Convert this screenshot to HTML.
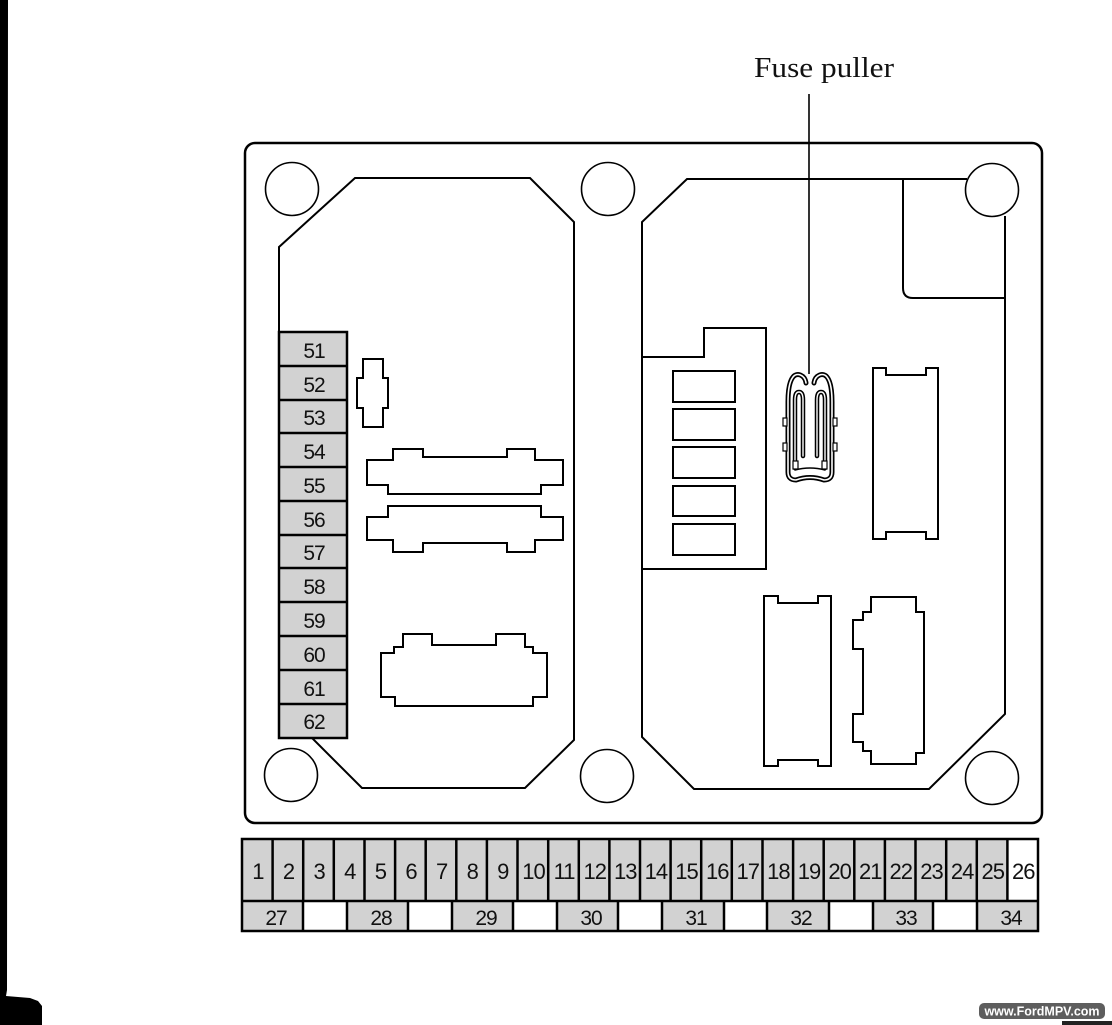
<!DOCTYPE html>
<html><head><meta charset="utf-8"><style>
html,body{margin:0;padding:0;background:#fff;}
svg{display:block;}
</style></head><body>
<svg width="1112" height="1025" viewBox="0 0 1112 1025" xmlns="http://www.w3.org/2000/svg">
<rect width="1112" height="1025" fill="#fff"/>
<polygon points="0,0 8,0 7,990 6,996 30,998 38,1001 42,1006 42,1025 0,1025" fill="#000"/>

<text x="754" y="77" font-family="Liberation Serif, serif" font-size="29" textLength="140" lengthAdjust="spacingAndGlyphs" fill="#111">Fuse puller</text>
<line x1="809" y1="94" x2="809" y2="374" stroke="#000" stroke-width="1.6"/>

<rect x="245" y="143" width="797" height="680" rx="10" ry="10" fill="none" stroke="#000" stroke-width="2.5"/>

<g fill="#fff" stroke="#000" stroke-width="1.6">
<circle cx="292" cy="189" r="26.5"/>
<circle cx="608" cy="189" r="26.5"/>
<circle cx="992" cy="190" r="26.5"/>
<circle cx="291" cy="775" r="26.5"/>
<circle cx="607" cy="776" r="26.5"/>
<circle cx="992" cy="778" r="26.5"/>
</g>

<polygon points="279,247 355,178 530,178 574,222 574,740 525,788 362,788 279,705" fill="none" stroke="#000" stroke-width="2"/>

<path d="M967 179 L687 179 L642 222 L642 737 L694 789 L929 789 L1005 714 L1005 216" fill="none" stroke="#000" stroke-width="2"/>
<path d="M903 179 L903 288 Q903 298 913 298 L1005 298" fill="none" stroke="#000" stroke-width="2"/>

<path d="M642 357 L704 357 L704 328 L766 328 L766 569 L642 569" fill="none" stroke="#000" stroke-width="2"/>
<g fill="none" stroke="#000" stroke-width="2">
<rect x="673" y="371" width="62" height="31"/>
<rect x="673" y="409" width="62" height="31"/>
<rect x="673" y="447" width="62" height="31"/>
<rect x="673" y="486" width="62" height="30"/>
<rect x="673" y="524" width="62" height="31"/>
</g>

<path d="M873 368 L886 368 L886 375 L926 375 L926 368 L938 368 L938 539 L926 539 L926 532 L886 532 L886 539 L873 539 Z" fill="none" stroke="#000" stroke-width="2"/>

<path d="M764 596 L778 596 L778 603 L818 603 L818 596 L831 596 L831 766 L818 766 L818 760 L778 760 L778 766 L764 766 Z" fill="none" stroke="#000" stroke-width="2"/>
<path d="M871 597 L916 597 L916 612 L924 612 L924 753 L916 753 L916 764 L871 764 L871 751 L863 751 L863 742 L853 742 L853 714 L863 714 L863 649 L853 649 L853 620 L863 620 L863 612 L871 612 Z" fill="none" stroke="#000" stroke-width="2"/>

<g fill="none" stroke-linejoin="round" stroke-linecap="round">
<path d="M806 383 C805 375 797 372 793 377 C789 382 788 392 788 402 L788 472 Q788 480 796 480 Q810 475 824 480 Q832 480 832 472 L832 402 C832 392 831 382 827 377 C823 372 815 375 814 383" stroke="#000" stroke-width="5"/>
<path d="M806 383 C805 375 797 372 793 377 C789 382 788 392 788 402 L788 472 Q788 480 796 480 Q810 475 824 480 Q832 480 832 472 L832 402 C832 392 831 382 827 377 C823 372 815 375 814 383" stroke="#fff" stroke-width="1.6"/>
<path d="M795 468 L795 400 Q795 392 799 392 Q803 392 803 400 L803 456" stroke="#000" stroke-width="4.5"/>
<path d="M795 468 L795 400 Q795 392 799 392 Q803 392 803 400 L803 456" stroke="#fff" stroke-width="1.4"/>
<path d="M825 468 L825 400 Q825 392 821 392 Q817 392 817 400 L817 456" stroke="#000" stroke-width="4.5"/>
<path d="M825 468 L825 400 Q825 392 821 392 Q817 392 817 400 L817 456" stroke="#fff" stroke-width="1.4"/>
<path d="M795 470 Q810 466 825 470" stroke="#000" stroke-width="1.5"/>
</g>
<g fill="#fff" stroke="#000" stroke-width="1.2">
<rect x="783" y="418" width="4" height="8"/>
<rect x="783" y="443" width="4" height="8"/>
<rect x="833" y="418" width="4" height="8"/>
<rect x="833" y="443" width="4" height="8"/>
<rect x="793" y="461" width="5" height="8"/>
<rect x="822" y="461" width="5" height="8"/>
</g>

<path d="M363 359 L383 359 L383 378 L388 378 L388 408 L383 408 L383 427 L363 427 L363 408 L357 408 L357 378 L363 378 Z" fill="none" stroke="#000" stroke-width="2"/>
<path d="M367 460 L393 460 L393 449 L423 449 L423 457 L507 457 L507 449 L535 449 L535 460 L563 460 L563 485 L541 485 L541 494 L388 494 L388 485 L367 485 Z" fill="none" stroke="#000" stroke-width="2"/>
<path d="M367 517 L388 517 L388 506 L541 506 L541 517 L563 517 L563 540 L535 540 L535 552 L507 552 L507 543 L423 543 L423 552 L393 552 L393 540 L367 540 Z" fill="none" stroke="#000" stroke-width="2"/>
<path d="M403 634 L432 634 L432 645 L496 645 L496 634 L525 634 L525 647 L533 647 L533 653 L547 653 L547 697 L533 697 L533 706 L395 706 L395 697 L381 697 L381 653 L394 653 L394 647 L403 647 Z" fill="none" stroke="#000" stroke-width="2"/>

<rect x="279" y="332" width="68" height="406" fill="#d2d2d2" stroke="#000" stroke-width="2.5"/>
<g stroke="#000" stroke-width="2.5">
<line x1="279" y1="366" x2="347" y2="366"/>
<line x1="279" y1="400" x2="347" y2="400"/>
<line x1="279" y1="433" x2="347" y2="433"/>
<line x1="279" y1="467" x2="347" y2="467"/>
<line x1="279" y1="501" x2="347" y2="501"/>
<line x1="279" y1="535" x2="347" y2="535"/>
<line x1="279" y1="568" x2="347" y2="568"/>
<line x1="279" y1="602" x2="347" y2="602"/>
<line x1="279" y1="636" x2="347" y2="636"/>
<line x1="279" y1="670" x2="347" y2="670"/>
<line x1="279" y1="704" x2="347" y2="704"/>
</g>
<g font-family="Liberation Sans, sans-serif" font-size="21" text-anchor="middle" fill="#111" letter-spacing="-1">
<text x="314" y="358">51</text>
<text x="314" y="392">52</text>
<text x="314" y="425">53</text>
<text x="314" y="459">54</text>
<text x="314" y="493">55</text>
<text x="314" y="527">56</text>
<text x="314" y="560">57</text>
<text x="314" y="594">58</text>
<text x="314" y="628">59</text>
<text x="314" y="662">60</text>
<text x="314" y="696">61</text>
<text x="314" y="729">62</text>
</g>

<g fill="#d2d2d2">
<rect x="242" y="839" width="765" height="62"/>
<rect x="242" y="901" width="61" height="30"/>
<rect x="347" y="901" width="61" height="30"/>
<rect x="452" y="901" width="61" height="30"/>
<rect x="557" y="901" width="61" height="30"/>
<rect x="662" y="901" width="62" height="30"/>
<rect x="767" y="901" width="62" height="30"/>
<rect x="873" y="901" width="60" height="30"/>
<rect x="977" y="901" width="61" height="30"/>
</g>
<g stroke="#000" stroke-width="2.5" fill="none">
<rect x="242" y="839" width="796" height="92"/>
<line x1="242" y1="901" x2="1038" y2="901"/>
<line x1="272.6" y1="839" x2="272.6" y2="901"/>
<line x1="303.2" y1="839" x2="303.2" y2="901"/>
<line x1="333.8" y1="839" x2="333.8" y2="901"/>
<line x1="364.5" y1="839" x2="364.5" y2="901"/>
<line x1="395.1" y1="839" x2="395.1" y2="901"/>
<line x1="425.7" y1="839" x2="425.7" y2="901"/>
<line x1="456.3" y1="839" x2="456.3" y2="901"/>
<line x1="486.9" y1="839" x2="486.9" y2="901"/>
<line x1="517.5" y1="839" x2="517.5" y2="901"/>
<line x1="548.2" y1="839" x2="548.2" y2="901"/>
<line x1="578.8" y1="839" x2="578.8" y2="901"/>
<line x1="609.4" y1="839" x2="609.4" y2="901"/>
<line x1="640" y1="839" x2="640" y2="901"/>
<line x1="670.6" y1="839" x2="670.6" y2="901"/>
<line x1="701.2" y1="839" x2="701.2" y2="901"/>
<line x1="731.8" y1="839" x2="731.8" y2="901"/>
<line x1="762.5" y1="839" x2="762.5" y2="901"/>
<line x1="793.1" y1="839" x2="793.1" y2="901"/>
<line x1="823.7" y1="839" x2="823.7" y2="901"/>
<line x1="854.3" y1="839" x2="854.3" y2="901"/>
<line x1="884.9" y1="839" x2="884.9" y2="901"/>
<line x1="915.5" y1="839" x2="915.5" y2="901"/>
<line x1="946.2" y1="839" x2="946.2" y2="901"/>
<line x1="976.8" y1="839" x2="976.8" y2="901"/>
<line x1="1007.4" y1="839" x2="1007.4" y2="901"/>
<line x1="303" y1="901" x2="303" y2="931"/>
<line x1="347" y1="901" x2="347" y2="931"/>
<line x1="408" y1="901" x2="408" y2="931"/>
<line x1="452" y1="901" x2="452" y2="931"/>
<line x1="513" y1="901" x2="513" y2="931"/>
<line x1="557" y1="901" x2="557" y2="931"/>
<line x1="618" y1="901" x2="618" y2="931"/>
<line x1="662" y1="901" x2="662" y2="931"/>
<line x1="724" y1="901" x2="724" y2="931"/>
<line x1="767" y1="901" x2="767" y2="931"/>
<line x1="829" y1="901" x2="829" y2="931"/>
<line x1="873" y1="901" x2="873" y2="931"/>
<line x1="933" y1="901" x2="933" y2="931"/>
<line x1="977" y1="901" x2="977" y2="931"/>
</g>
<g font-family="Liberation Sans, sans-serif" font-size="22" text-anchor="middle" fill="#111" letter-spacing="-1">
<text x="257.9" y="879">1</text>
<text x="288.5" y="879">2</text>
<text x="319.1" y="879">3</text>
<text x="349.8" y="879">4</text>
<text x="380.4" y="879">5</text>
<text x="411" y="879">6</text>
<text x="441.6" y="879">7</text>
<text x="472.2" y="879">8</text>
<text x="502.8" y="879">9</text>
<text x="533.5" y="879">10</text>
<text x="564.1" y="879">11</text>
<text x="594.7" y="879">12</text>
<text x="625.3" y="879">13</text>
<text x="655.9" y="879">14</text>
<text x="686.5" y="879">15</text>
<text x="717.2" y="879">16</text>
<text x="747.8" y="879">17</text>
<text x="778.4" y="879">18</text>
<text x="809" y="879">19</text>
<text x="839.6" y="879">20</text>
<text x="870.2" y="879">21</text>
<text x="900.8" y="879">22</text>
<text x="931.5" y="879">23</text>
<text x="962.1" y="879">24</text>
<text x="992.7" y="879">25</text>
<text x="1023.3" y="879">26</text>
</g>
<g font-family="Liberation Sans, sans-serif" font-size="21" text-anchor="middle" fill="#111" letter-spacing="-1">
<text x="276" y="925">27</text>
<text x="381" y="925">28</text>
<text x="486" y="925">29</text>
<text x="591" y="925">30</text>
<text x="696" y="925">31</text>
<text x="801" y="925">32</text>
<text x="906" y="925">33</text>
<text x="1011" y="925">34</text>
</g>

<rect x="979" y="1003" width="126" height="16" rx="5" ry="5" fill="#5e5e5e"/>
<text x="1042" y="1015.5" font-family="Liberation Sans, sans-serif" font-size="12.5" font-weight="bold" text-anchor="middle" fill="#fff">www.FordMPV.com</text>
<rect x="1062" y="1021" width="50" height="4" fill="#222"/>
</svg>
</body></html>
